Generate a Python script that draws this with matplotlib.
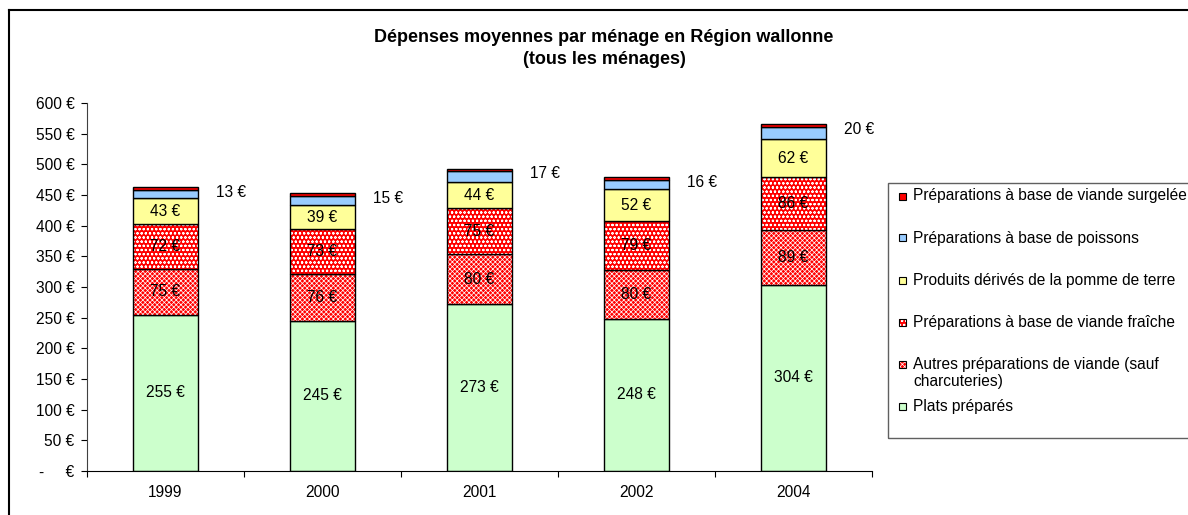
"""Dépenses moyennes par ménage en Région wallonne - stacked bars."""

import matplotlib

matplotlib.use("Agg")

import matplotlib.pyplot as plt
import numpy as np
from matplotlib.lines import Line2D
from matplotlib.patches import Rectangle

plt.rcParams["font.family"] = ["Liberation Sans", "DejaVu Sans"]
plt.rcParams["hatch.linewidth"] = 0.5

years = ["1999", "2000", "2001", "2002", "2004"]
plats = [255, 245, 273, 248, 304]
autres = [75, 76, 80, 80, 89]
fraiche = [72, 73, 75, 79, 86]
pomme = [43, 39, 44, 52, 62]
poissons = [13, 15, 17, 16, 20]
surgelee = [5, 5, 4, 4, 4]

labels = [
    "Plats préparés",
    "Autres préparations de viande (sauf\ncharcuteries)",
    "Préparations à base de viande fraîche",
    "Produits dérivés de la pomme de terre",
    "Préparations à base de poissons",
    "Préparations à base de viande surgelée",
]
colors = ["#CCFFCC", "#FF0000", "#FF0000", "#FFFF99", "#99CCFF", "#FF0000"]
hatches = [None, "xxxxxxx", "oooo", None, None, None]
y_ticks = [0, 50, 100, 150, 200, 250, 300, 350, 400, 450, 500, 550, 600]

FS = 11.2
W, H = 1188, 515
fig = plt.figure(figsize=(W / 100, H / 100), dpi=100)
ax = fig.add_axes([87 / W, 1 - 471 / H, (872 - 87) / W, (471 - 103) / H])

series = [plats, autres, fraiche, pomme, poissons, surgelee]
x = np.arange(len(years))
width = 0.41
bottom = np.zeros(len(years))
for vals, col, hat in zip(series, colors, hatches):
    vals = np.array(vals, dtype=float)
    if hat:
        ax.bar(x, vals, width, bottom=bottom, color=col, edgecolor="white",
               hatch=hat, linewidth=0)
        ax.bar(x, vals, width, bottom=bottom, fill=False, edgecolor="black",
               linewidth=1)
    else:
        ax.bar(x, vals, width, bottom=bottom, color=col, edgecolor="black",
               linewidth=1)
    bottom += vals

# value labels
bottom = np.zeros(len(years))
for vals in series[:4]:
    vals = np.array(vals, dtype=float)
    for xi, b, v in zip(x, bottom, vals):
        ax.text(xi, b + v / 2, f"{int(v)} €", ha="center", va="center",
                fontsize=FS)
    bottom += vals
top_blue = bottom + np.array(poissons)
for xi, t, v in zip(x, top_blue, poissons):
    ax.text(xi + 0.42, t - 4, f"{v} €", ha="center", va="center", fontsize=FS)

ax.set_xlim(-0.5, len(years) - 0.5)
ax.set_ylim(0, 600)
ax.set_yticks(y_ticks)
ax.set_yticklabels(["-     €"] + [f"{v} €" for v in y_ticks[1:]], fontsize=FS)
ax.set_xticks(np.arange(-0.5, len(years), 1.0))
ax.set_xticklabels([])
ax.set_xticks(x, minor=True)
ax.set_xticklabels(years, minor=True, fontsize=FS)
ax.tick_params(axis="x", which="major", length=4, direction="out")
ax.tick_params(axis="x", which="minor", length=0, pad=10)
ax.tick_params(axis="y", length=4, pad=5)
for s in ["top", "right"]:
    ax.spines[s].set_visible(False)
ax.spines["left"].set_color("#404040")

fig.text(604 / W, 1 - 38 / H, "Dépenses moyennes par ménage en Région wallonne",
         ha="center", va="center", fontsize=13, fontweight="bold")
fig.text(604 / W, 1 - 60 / H, "(tous les ménages)", ha="center", va="center",
         fontsize=13, fontweight="bold")

# outer frame (top and left visible)
fig.add_artist(Line2D([9 / W, 9 / W], [0, 1 - 10 / H], color="black", lw=1.5,
                      transform=fig.transFigure))
fig.add_artist(Line2D([9 / W, 1], [1 - 10 / H, 1 - 10 / H], color="black", lw=1.5,
                      transform=fig.transFigure))

# legend box
fig.add_artist(Rectangle((888 / W, 1 - 438 / H), (W + 5 - 888) / W, (438 - 183) / H,
                         transform=fig.transFigure, fill=False,
                         edgecolor="#606060", lw=1))
row_y = [406, 373, 322, 280, 238, 196]
swatch_y = [406, 364, 322, 280, 238, 196]
for lab, col, hat, ty, sy in zip(labels, colors, hatches, row_y, swatch_y):
    sw = (899 / W, 1 - (sy + 3.5) / H)
    if hat:
        fig.add_artist(Rectangle(sw, 7 / W, 7 / H, transform=fig.transFigure,
                                 facecolor=col, edgecolor="white", hatch=hat, lw=0))
        fig.add_artist(Rectangle(sw, 7 / W, 7 / H, transform=fig.transFigure,
                                 fill=False, edgecolor="black", lw=0.8))
    else:
        fig.add_artist(Rectangle(sw, 7 / W, 7 / H, transform=fig.transFigure,
                                 facecolor=col, edgecolor="black", lw=0.8))
    fig.text(913 / W, 1 - ty / H, lab, ha="left", va="center", fontsize=FS,
             linespacing=1.2)

fig.savefig("out.png", dpi=100)
